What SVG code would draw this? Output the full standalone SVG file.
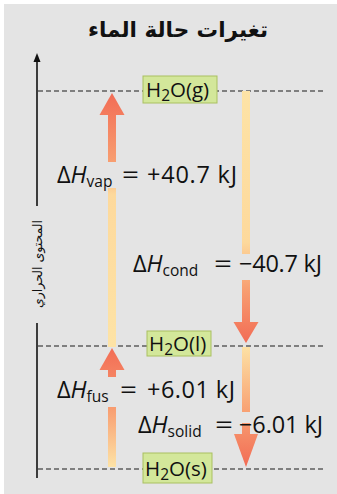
<svg xmlns="http://www.w3.org/2000/svg" width="337" height="494" viewBox="0 0 337 494">
<style>
.lvl{stroke:#1a1a1a;stroke-width:1.2;stroke-dasharray:5 3;fill:none}
.box{fill:#d3e79a;stroke:#a9c060;stroke-width:1}
.lbl{font-family:"Open Sans","Noto Sans",sans-serif;font-size:20.5px;fill:#111}
.eq{font-family:"Open Sans","Noto Sans",sans-serif;font-size:23.5px;fill:#111}
.sub{font-size:15.5px}
.ar{font-family:"DejaVu Sans",sans-serif;fill:#111}
</style>
<defs>
<linearGradient id="gUp1" gradientUnits="userSpaceOnUse" x1="0" y1="93" x2="0" y2="347">
<stop offset="0" stop-color="#f26c55"/><stop offset="0.28" stop-color="#f8a072"/><stop offset="0.4" stop-color="#fdd99c"/><stop offset="1" stop-color="#fde3a6"/>
</linearGradient>
<linearGradient id="gUp2" gradientUnits="userSpaceOnUse" x1="0" y1="348" x2="0" y2="467">
<stop offset="0" stop-color="#f26c55"/><stop offset="0.5" stop-color="#f89c70"/><stop offset="1" stop-color="#fde3a6"/>
</linearGradient>
<linearGradient id="gDn1" gradientUnits="userSpaceOnUse" x1="0" y1="91" x2="0" y2="343">
<stop offset="0" stop-color="#fde3a6"/><stop offset="0.6" stop-color="#fdd99c"/><stop offset="0.78" stop-color="#f8a072"/><stop offset="1" stop-color="#f26c55"/>
</linearGradient>
<linearGradient id="gDn2" gradientUnits="userSpaceOnUse" x1="0" y1="345" x2="0" y2="467">
<stop offset="0" stop-color="#fde3a6"/><stop offset="0.55" stop-color="#f8a072"/><stop offset="1" stop-color="#f26c55"/>
</linearGradient>
</defs>
<rect x="0" y="0" width="337" height="494" fill="#ffffff"/>
<rect x="4" y="4" width="333" height="490" fill="#e4e4e4"/>
<text class="ar" x="178" y="37" font-size="21.5" font-weight="bold" text-anchor="middle" direction="rtl">تغيرات حالة الماء</text>
<g id="axis">
<line x1="37" y1="478" x2="37" y2="323" stroke="#111" stroke-width="1.6"/>
<line x1="37" y1="206" x2="37" y2="60" stroke="#111" stroke-width="1.6"/>
<polygon points="37,53 33.5,62 40.5,62" fill="#111"/>
<text class="ar" transform="translate(42,264) rotate(-90)" font-size="12.5" text-anchor="middle" direction="rtl">المحتوى الحراري</text>
</g>
<g id="connectors">
<line class="lvl" x1="38" y1="91" x2="324" y2="91"/>
<line class="lvl" x1="38" y1="346" x2="324" y2="346"/>
<line class="lvl" x1="38" y1="469" x2="324" y2="469"/>
<g id="vap" fill="url(#gUp1)">
<polygon points="112,93 99.5,115 124.5,115"/>
<rect x="108" y="114" width="8" height="48"/>
<rect x="108" y="188" width="8" height="159"/>
</g>
<g id="fus" fill="url(#gUp2)">
<polygon points="112,348 99.5,370 124.5,370"/>
<rect x="108" y="369" width="8" height="8"/>
<rect x="108" y="407" width="8" height="60"/>
</g>
<g id="cond" fill="url(#gDn1)">
<rect x="242" y="91" width="8" height="163"/>
<rect x="242" y="280" width="8" height="43"/>
<polygon points="233.5,322 258.5,322 246,343"/>
</g>
<g id="solid" fill="url(#gDn2)">
<rect x="242" y="347" width="8" height="65"/>
<rect x="242" y="423" width="8" height="12"/>
<polygon points="234,434 258,434 246,467"/>
</g>
</g>
<g id="gas">
<rect class="box" x="143" y="76" width="74" height="27"/>
<text class="lbl" x="146" y="97">H<tspan class="sub" dy="4">2</tspan><tspan dy="-4">O(g)</tspan></text>
</g>
<g id="liquid">
<rect class="box" x="147" y="331" width="64" height="25"/>
<text class="lbl" x="149" y="351">H<tspan class="sub" dy="4">2</tspan><tspan dy="-4">O(l)</tspan></text>
</g>
<g id="solidstate">
<rect class="box" x="143" y="453" width="69" height="30"/>
<text class="lbl" x="145" y="476">H<tspan class="sub" dy="4">2</tspan><tspan dy="-4">O(s)</tspan></text>
</g>
<g id="labels">
<text class="eq" y="183"><tspan x="57">Δ</tspan><tspan font-style="italic">H</tspan><tspan class="sub" dy="4">vap</tspan><tspan x="122" dy="-4" textLength="17" lengthAdjust="spacingAndGlyphs">=</tspan><tspan x="147" textLength="90" lengthAdjust="spacing">+40.7 kJ</tspan></text>
<text class="eq" y="272"><tspan x="133">Δ</tspan><tspan font-style="italic">H</tspan><tspan class="sub" dy="4">cond</tspan><tspan x="214" dy="-4" textLength="18" lengthAdjust="spacingAndGlyphs">=</tspan><tspan x="239" textLength="83" lengthAdjust="spacing">−40.7 kJ</tspan></text>
<text class="eq" y="398"><tspan x="57">Δ</tspan><tspan font-style="italic">H</tspan><tspan class="sub" dy="4">fus</tspan><tspan x="120" dy="-4" textLength="17" lengthAdjust="spacingAndGlyphs">=</tspan><tspan x="147" textLength="88" lengthAdjust="spacing">+6.01 kJ</tspan></text>
<text class="eq" y="433"><tspan x="138">Δ</tspan><tspan font-style="italic">H</tspan><tspan class="sub" dy="4">solid</tspan><tspan x="215" dy="-4" textLength="18" lengthAdjust="spacingAndGlyphs">=</tspan><tspan x="239" textLength="84" lengthAdjust="spacing">−6.01 kJ</tspan></text>
</g>
</svg>
